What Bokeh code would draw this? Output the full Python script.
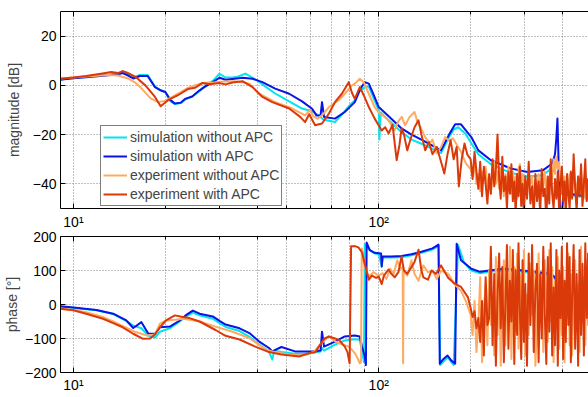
from bokeh.plotting import figure
from bokeh.layouts import column
from bokeh.models import (FixedTicker, CustomJSTickFormatter, LogAxis, Legend,
                          LegendItem, Label, Range1d)
from bokeh.embed import file_html
from bokeh.resources import INLINE

# ---------------------------------------------------------------- data
# (frequency [Hz], magnitude [dB]) and (frequency [Hz], phase [deg])

SIM_OFF_MAG = [
    (9.0, 2.4), (10, 3.0), (11, 3.5), (12, 4.0), (13, 4.4), (14.0, 4.8), (14.5, 5.8),
    (15.1, 4.6), (15.7, 3.0), (16.5, 4.2), (17.5, 4.2), (18.5, -0.5), (19.3, -2.0),
    (20.0, -2.8), (20.8, -6.5), (21.5, -7.6), (22.5, -7.2), (23.2, -5.8), (24.5, -4.5),
    (25.9, -2.3), (27.0, 0.0), (28.6, 1.8), (30.1, 4.7), (31.5, 3.2), (33.2, 3.2),
    (34.5, 3.5), (36.6, 4.8), (38.0, 3.6), (40.0, 2.0), (42.0, 0.0), (45.8, -3.3),
    (50.9, -6.5), (56.1, -9.4), (60.5, -10.5), (64.0, -12.5), (66.0, -14.0), (71.9, -14.9),
    (75.0, -12.5), (79.8, -8.5), (83.5, -6.0), (86.0, -2.7), (90.0, -0.8), (92.8, -0.5),
    (96.0, -5.0), (100.0, -10.0), (100.5, -22.0), (101.5, -11.0), (107.8, -14.2),
    (118.8, -19.0), (128.1, -22.0), (140, -24.0), (160, -27.5), (170, -21.0), (176, -18.0),
    (182, -17.0), (192, -19.5), (201, -23.5), (212, -28.0), (233, -32.0), (270, -35.5),
    (307, -37.0), (345, -36.5), (370, -33.5), (380, -31.0), (386, -29.0), (390, -35.0),
    (396, -44.0), (420, -44.5), (450, -45.0), (487, -45.5),
]

SIM_ON_MAG = [
    (9.0, 2.3), (10, 2.9), (11, 3.3), (12, 3.7), (13, 4.1), (14.0, 4.5), (14.5, 5.0),
    (15.1, 4.0), (15.7, 2.8), (16.5, 3.8), (17.5, 3.8), (18.5, -0.7), (19.3, -2.0),
    (20.0, -2.7), (20.8, -6.0), (21.5, -7.4), (22.5, -7.0), (23.2, -5.5), (24.5, -4.5),
    (25.9, -2.0), (27.0, -0.5), (28.6, 1.3), (30.1, 3.1), (31.5, 2.3), (33.2, 2.6),
    (35.8, 3.1), (38.6, 2.7), (41.6, 1.3), (45.8, -1.3), (50.9, -3.4), (56.1, -6.5),
    (60.5, -9.5), (62.5, -12.2), (64.5, -12.2), (65.2, -6.8), (66.2, -12.8), (71.9, -13.5),
    (77.4, -10.8), (83.5, -6.8), (87.0, -1.5), (90.0, 1.3), (92.8, 0.7), (96.0, -3.5),
    (100.0, -8.8), (107.8, -12.5), (118.8, -17.5), (128.1, -20.0), (138, -22.0),
    (150, -24.5), (160, -26.4), (170, -20.0), (178, -15.8), (186, -15.8), (201, -21.0),
    (212, -26.4), (233, -30.4), (270, -33.7), (307, -35.2), (345, -34.5), (370, -31.7),
    (378, -28.0), (382, -21.0), (385, -13.5), (387, -24.0), (390, -40.0), (393, -53.0),
    (398, -53.0), (402, -45.0), (420, -44.0), (450, -44.5), (487, -45.0),
]

EXP_OFF_MAG_LOW = [
    (9.0, 2.8), (10, 3.2), (11, 3.6), (12, 3.9), (13, 4.2), (14.0, 4.0), (15.1, 2.8),
    (16.0, 1.0), (16.7, -1.2), (17.9, -5.3), (18.9, -6.8), (19.9, -6.3), (21.0, -4.8),
    (22.0, -3.4), (23.7, -1.0), (25.0, 0.0), (26.5, 1.0), (29.2, 1.3), (31.0, 1.6),
    (34.0, 1.7), (36.0, 1.2), (37.7, 0.7), (40.6, -3.4), (45.8, -6.8), (52.1, -9.4),
    (55.0, -11.0), (57.4, -12.2), (59.6, -10.0), (61.0, -12.5), (63.0, -13.5),
    (65.2, -12.2), (68.7, -8.8), (74.1, -6.0), (77.4, -3.4), (81.7, 0.0), (83.5, 0.7),
    (86.7, 2.7), (89.3, 1.3), (92.8, -3.4), (97.0, -8.8), (100.0, -11.0), (104.6, -12.8),
    (108.0, -14.5), (112.8, -18.3), (116, -14.5), (119, -12.8), (122, -16.2), (126, -13.0),
    (131, -10.8), (134, -15.0), (137, -17.0), (142, -21.0), (147, -23.6), (150, -22.0),
    (155, -27.7), (160, -25.0), (165, -21.0), (170, -22.5), (175, -21.5), (180, -24.0),
    (186, -27.0), (193, -31.7),
]

EXP_ON_MAG_LOW = [
    (9.0, 2.7), (10, 3.2), (11, 3.8), (12.3, 4.7), (13.3, 5.4), (14.0, 5.0), (14.5, 5.8),
    (15.1, 5.0), (16.0, 3.4), (17.2, 0.0), (18.5, -4.7), (19.3, -8.5), (20.4, -6.0),
    (22.0, -4.0), (23.7, -1.5), (25.0, -1.0), (26.5, 1.0), (28.0, 0.5), (30.0, 1.0),
    (31.5, 0.4), (33.2, 1.2), (35.8, 1.7), (38.6, -0.7), (41.6, -4.7), (44.8, -6.8),
    (50.9, -9.4), (55.3, -12.8), (57.4, -14.9), (59.2, -11.7), (61.9, -16.2), (65.2, -15.5),
    (68.7, -11.4), (71.9, -6.8), (75.7, -3.4), (79.8, 1.3), (81.7, -3.0), (83.5, -5.5),
    (86.7, -0.7), (89.3, -4.0), (92.8, -8.8), (97.0, -13.5), (102.3, -18.3), (105, -17.0),
    (107.8, -19.5), (111, -16.0), (114.5, -30.4), (117, -24.0), (118.8, -17.5), (121, -20.0),
    (124, -26.4), (127, -22.0), (131, -17.0), (135, -14.2), (138, -20.0), (142, -26.4),
    (146, -23.0), (150, -28.0), (155, -25.0), (160, -31.0), (164, -35.8), (168, -28.0),
    (172, -22.3), (176, -30.0), (180, -25.0), (183, -41.0), (187, -30.0), (191, -23.6),
    (195, -28.0),
]

SIM_OFF_PH = [
    (9.0, -6), (10, -10), (11.9, -17), (13.5, -28), (14.9, -48), (15.7, -62), (16.7, -70),
    (17.6, -92), (18.5, -97), (19.2, -80), (20.7, -70), (22.3, -50), (23.3, -36),
    (24.6, -24), (25.9, -32), (28.6, -42), (30.1, -55), (31.5, -66), (35.0, -78),
    (37.7, -95), (40.6, -118), (43.7, -138), (44.8, -162), (45.5, -136), (48.0, -140),
    (53.2, -145), (57.4, -145), (60.5, -143), (64.5, -138), (65.2, -128), (66.2, -136),
    (71.9, -118), (77.4, -106), (83.5, -102), (86.7, -104), (88.2, -140), (89.5, -170),
    (90.0, 178), (92.8, 162), (97, 150), (100, 148), (102.3, 112), (103.0, 138), (110, 138),
    (118.8, 139), (128, 145), (138, 152), (150, 162), (157, 172), (159, -178), (168, -155),
    (176, -178), (182, 175), (190, 125), (201, 100), (215, 92), (230, 96), (257, 101),
    (292, 97), (340, 89), (366, 86), (378, 76), (385, 56), (392, 40), (400, 30), (420, 22),
    (450, 18), (487, 15),
]

SIM_ON_PH = [
    (9.0, -5), (10, -9), (11.9, -16), (13.5, -27), (14.9, -47), (15.7, -69), (16.7, -52),
    (17.6, -86), (18.5, -86), (19.2, -67), (20.7, -65), (22.3, -47), (23.3, -32),
    (24.6, -18), (25.9, -27), (28.6, -35), (30.1, -48), (31.5, -59), (35.0, -70),
    (37.7, -84), (40.6, -109), (43.7, -128), (44.8, -138), (48.0, -125), (53.2, -138),
    (57.4, -138), (60.5, -138), (64.5, -135), (65.2, -80), (66.2, -124), (71.9, -109),
    (77.4, -94), (83.5, -91), (86.7, -94), (88.2, -124), (90.0, -153), (90.8, -178),
    (91.3, 182), (93.5, 160), (97, 152), (100, 151), (101.8, 150), (102.3, 112),
    (103.0, 141), (110, 141), (118.8, 143), (128, 148), (138, 155), (150, 165), (157, 176),
    (158.5, -174), (163, -160), (168, -150), (173, -165), (178, -174), (180, 179),
    (186, 130), (201, 105), (215, 96), (230, 100), (257, 105), (292, 101), (340, 94),
    (366, 90), (378, 80), (385, 62), (392, 45), (400, 35), (420, 25), (450, 20), (487, 18),
]

EXP_OFF_PH_LOW = [
    (9.0, -12), (10, -16), (11.0, -23), (12.5, -37), (13.5, -50), (14.4, -62), (15.2, -72),
    (16.0, -81), (17.4, -91), (18.5, -88), (19.2, -56), (20.1, -47), (21.5, -45),
    (23.0, -42), (25.9, -50), (29.2, -65), (33.2, -80), (37.7, -99), (40.0, -115),
    (42.5, -132), (45.8, -140), (48.0, -143), (51.0, -147), (54.9, -150), (59.0, -146),
    (62.0, -135), (64.2, -118), (66.5, -105), (68.7, -94), (71.9, -108), (74.1, -114),
    (77.4, -120), (79.8, -124), (82.0, -135), (83.5, -143), (85.5, -160), (86.7, -173),
    (87.5, -170), (88.0, 165), (88.8, 150), (89.5, 120), (91, 100), (93, 82), (96, 95),
    (100, 85), (103, 92), (106, 75), (109, 105), (112, 90), (115, 130), (118, 105),
    (119.8, 110), (120.2, -173), (120.6, 100), (124, 85), (128, 130), (131, 90), (135, 70),
    (140, 115), (145, 95), (150, 100), (155, 75), (160, 100), (169, 90), (177, 60),
    (186, 40), (193, 10),
]

EXP_ON_PH_LOW = [
    (9.0, -12), (10, -17), (11.0, -27), (12.5, -42), (13.5, -55), (14.5, -67), (15.7, -86),
    (16.9, -101), (17.8, -100), (18.5, -88), (19.2, -67), (20.1, -47), (21.5, -32),
    (22.8, -37), (24.0, -40), (25.9, -50), (29.2, -75), (31.5, -92), (35.0, -103),
    (39.4, -124), (43.7, -140), (48.0, -147), (54.9, -153), (59.2, -143), (62.0, -140),
    (65.2, -110), (66.5, -100), (68.7, -94), (71.9, -100), (74.1, -104), (77.4, -124),
    (79.0, -140), (80.3, -173), (81.2, 171), (84.0, 171), (85.8, 168), (88.2, 153),
    (90.0, 120), (92.8, 73), (95, 85), (98, 78), (100, 82), (102.3, 60), (104, 85),
    (107.8, 103), (110, 90), (112.8, 80), (116, 95), (118.8, 141), (121, 100), (124, 90),
    (128, 110), (131, 125), (135, 161), (138, 100), (140, 80), (145, 73), (149, 100),
    (154, 90), (160, 115), (169, 78), (177, 62), (186, 52), (196, 21),
]

# measured spectra above 200 Hz share one frequency grid
HF_FREQ = [
    200, 203, 206, 209, 212, 215, 218, 221, 224, 227,
    230, 233, 236, 239, 242, 245, 248, 251, 254, 257,
    260, 263, 266, 269, 272, 275, 278, 281, 284, 287,
    290, 293, 296, 299, 302, 306, 310, 314, 318, 322,
    326, 330, 334, 338, 342, 346, 350, 354, 358, 362,
    366, 370, 374, 378, 382, 386, 390, 394, 398, 402,
    406, 410, 414, 418, 422, 426, 430, 435, 440, 445,
    450, 455, 460, 465, 470, 475, 480, 485, 490,
]

EXP_OFF_MAG_HF = [
    -34, -37, -32, -40, -36, -43, -35, -39, -33, -41,
    -37, -44, -36, -31, -40, -35, -42, -34, -38, -45,
    -36, -41, -33, -39, -44, -35, -40, -37, -46, -34,
    -32, -41, -36, -43, -38, -45, -35, -40, -37, -47,
    -39, -42, -36, -44, -38, -41, -35, -43, -37, -40,
    -33, -38, -30, -36, -29, -34, -31, -39, -35, -42,
    -37, -44, -38, -41, -36, -45, -39, -33, -40, -43,
    -37, -44, -35, -41, -38, -46, -39, -42, -37,
]

EXP_ON_MAG_HF = [
    -30, -38, -27, -35, -42, -31, -45, -33, -40, -48,
    -36, -44, -30, -41, -34, -20, -38, -46, -29, -43,
    -37, -50, -35, -44, -32, -47, -39, -52, -36, -45,
    -33, -49, -40, -53, -37, -46, -31, -48, -41, -53,
    -36, -47, -39, -52, -34, -45, -42, -55, -37, -48,
    -30, -44, -50, -38, -46, -35, -52, -41, -33, -47,
    -39, -53, -36, -44, -50, -35, -46, -28, -42, -51,
    -37, -45, -32, -49, -40, -30, -47, -38, -52,
]

EXP_OFF_PH_HF = [
    -30, -90, 10, -140, -60, 80, -170, -20, 60, -120,
    100, -60, 20, -150, 140, -90, 50, -180, 0, 130,
    -120, 60, -40, 170, -160, 20, 110, -80, 150, -130,
    90, 10, -60, 160, -150, 30, -90, 120, -30, 100,
    -180, -60, 150, -20, 80, -140, 130, 40, -110, 160,
    -50, 110, -170, 70, -60, 140, -130, 40, -90, 110,
    -170, 60, -40, 150, -120, 90, -150, 30, 130, -80,
    60, -140, 170, -30, 80, -120, 130, -60, 100,
]

EXP_ON_PH_HF = [
    -10, -37, -20, -70, -40, -110, 10, -150, 80, -60,
    -40, 170, -120, 90, -180, 30, 150, -70, 110, -170,
    0, 175, -130, 70, -50, 160, -175, 100, -90, 180,
    -20, -160, 130, -110, 60, -180, 150, -60, 175, -140,
    40, 120, -170, 90, -100, 170, -30, -175, 140, -80,
    180, -150, 50, -120, 160, -180, 100, -40, 170, -160,
    70, -110, 180, -60, 140, -170, 20, 175, -130, 90,
    -180, 160, -90, 120, -150, 180, -40, 150, -170,
]

SERIES_NAMES = ["simulation without APC", "simulation with APC",
                "experiment without APC", "experiment with APC"]
MAG_TICKS = [-40, -20, 0, 20]
PHASE_TICKS = [-200, -100, 0, 100, 200]
FREQ_MAJOR = [10, 100]
FREQ_MINOR = [20, 30, 40, 50, 60, 70, 80, 90, 200, 300, 400]

# ---------------------------------------------------------------- style
FONT = "Liberation Sans"
FS = "14px"
COLORS = ["#00E5EE", "#0A14E6", "#FFAA60", "#DA3A0A"]
F_MIN, F_MAX = 9.07, 486.6
GRID = "#808080"


def split(pairs):
    return [p[0] for p in pairs], [p[1] for p in pairs]


def with_hf(low, hf_vals):
    return low + list(zip(HF_FREQ, hf_vals))


mag_series = [SIM_OFF_MAG, SIM_ON_MAG,
              with_hf(EXP_OFF_MAG_LOW, EXP_OFF_MAG_HF),
              with_hf(EXP_ON_MAG_LOW, EXP_ON_MAG_HF)]
ph_series = [SIM_OFF_PH, SIM_ON_PH,
             with_hf(EXP_OFF_PH_LOW, EXP_OFF_PH_HF),
             with_hf(EXP_ON_PH_LOW, EXP_ON_PH_HF)]

x_fmt = CustomJSTickFormatter(code="""
    const e = Math.round(Math.log10(tick));
    const sup = ['\\u2070', '\\u00b9', '\\u00b2', '\\u00b3'];
    return '10' + sup[e];
""")
y_fmt = CustomJSTickFormatter(code="return (tick < 0 ? '\\u2212' : '') + Math.abs(tick);")


def make_panel(height, y_lo, y_hi, y_ticks, top, bottom, ylabel, label_standoff,
               show_x_labels, show_top_labels):
    p = figure(width=588, height=height, x_axis_type="log",
               x_range=Range1d(F_MIN, F_MAX), y_range=Range1d(y_lo, y_hi),
               output_backend="svg", toolbar_location=None,
               min_border_left=57, min_border_right=0,
               min_border_top=top, min_border_bottom=bottom)
    p.outline_line_color = None
    p.background_fill_color = "white"
    p.border_fill_color = "white"

    xt = FixedTicker(ticks=FREQ_MAJOR, minor_ticks=FREQ_MINOR)
    yt = FixedTicker(ticks=y_ticks)

    xa = p.xaxis[0]
    xa.ticker = xt
    xa.formatter = x_fmt
    ya = p.yaxis[0]
    ya.ticker = yt
    ya.formatter = y_fmt
    ya.axis_label = ylabel
    ya.axis_label_standoff = label_standoff
    ya.axis_label_text_font = FONT
    ya.axis_label_text_font_size = FS
    ya.axis_label_text_font_style = "normal"

    # box line along the top edge; the phase panel also carries the
    # frequency labels of the magnitude panel above it
    top_ax = LogAxis(ticker=xt, formatter=x_fmt)
    p.add_layout(top_ax, "above")

    for ax in (xa, ya, top_ax):
        ax.major_tick_in = 5
        ax.major_tick_out = 0
        ax.minor_tick_in = 3
        ax.minor_tick_out = 0
        ax.major_label_standoff = 4
        ax.major_label_text_font = FONT
        ax.major_label_text_font_size = FS
        ax.major_label_text_color = "black"
        ax.axis_line_color = "black"
        ax.major_tick_line_color = "black"
        ax.minor_tick_line_color = "black"
    ya.minor_tick_line_color = None

    hidden = [ax for ax, show in ((xa, show_x_labels), (top_ax, show_top_labels)) if not show]
    for ax in hidden:
        ax.major_label_text_font_size = "0px"
        ax.major_label_text_color = None
        ax.major_label_standoff = 0
    if show_top_labels:
        top_ax.major_label_standoff = 7

    p.xgrid.ticker = xt
    p.ygrid.ticker = yt
    for g in (p.xgrid, p.ygrid):
        g.grid_line_color = GRID
        g.grid_line_dash = "1 2"
        g.grid_line_width = 1
    p.xgrid.minor_grid_line_color = GRID
    p.xgrid.minor_grid_line_dash = "1 2"
    return p


top = make_panel(210, -50, 30, MAG_TICKS, 11, 2, "magnitude [dB]", 8, False, False)
bot = make_panel(187, -200, 200, PHASE_TICKS, 26, 25, "phase [°]", 2, True, True)

renderers = []
for pairs, color in zip(mag_series, COLORS):
    f, v = split(pairs)
    renderers.append(top.line(f, v, line_color=color, line_width=2, line_join="round"))
for pairs, color in zip(ph_series, COLORS):
    f, v = split(pairs)
    bot.line(f, v, line_color=color, line_width=2, line_join="round")

legend = Legend(items=[LegendItem(label=n, renderers=[r]) for n, r in zip(SERIES_NAMES, renderers)],
                location=(40, 2), orientation="vertical",
                border_line_color="black", border_line_width=1,
                background_fill_color="white", background_fill_alpha=1.0,
                label_text_font=FONT, label_text_font_size=FS,
                glyph_width=24, glyph_height=18, label_height=18,
                label_standoff=3, spacing=1, padding=2, margin=0)
top.add_layout(legend)

bot.add_layout(Label(x=60.5, y=-238, text="frequency [Hz]", text_align="center",
                     text_baseline="middle", text_font=FONT, text_font_size=FS))

layout = column(top, bot, spacing=0)
open("out.html", "w").write(file_html(layout, INLINE))
